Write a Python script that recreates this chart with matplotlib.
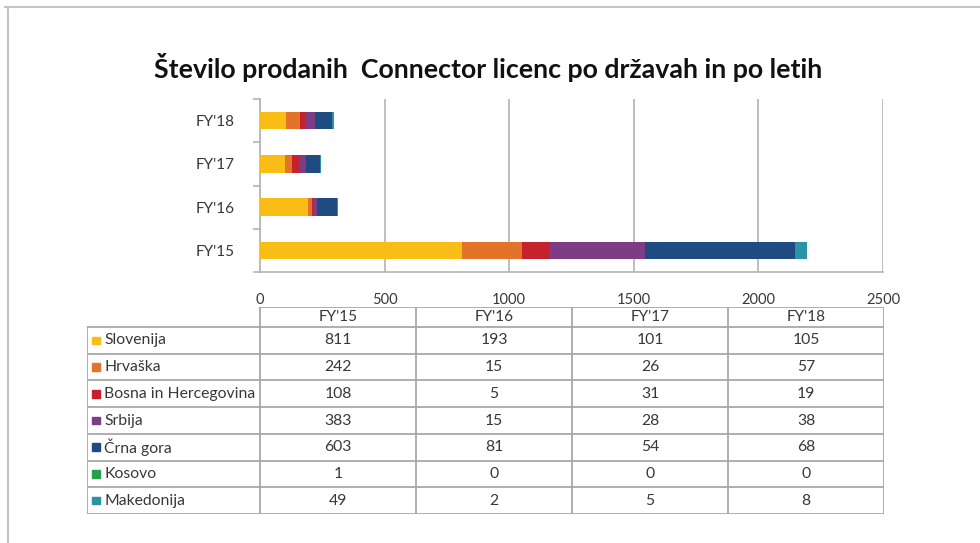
import numpy as np
from matplotlib import pyplot as plt
from matplotlib.lines import Line2D
from matplotlib.patches import Rectangle

plt.rcParams['font.family'] = ['Lato', 'DejaVu Sans']

years = ["FY'15", "FY'16", "FY'17", "FY'18"]
countries = ["Slovenija", "Hrvaška", "Bosna in Hercegovina", "Srbija",
             "Črna gora", "Kosovo", "Makedonija"]
slovenija = [811, 193, 101, 105]
hrvaska = [242, 15, 26, 57]
bosna = [108, 5, 31, 19]
srbija = [383, 15, 28, 38]
crna_gora = [603, 81, 54, 68]
kosovo = [1, 0, 0, 0]
makedonija = [49, 2, 5, 8]
colors = ["#F9BD15", "#E4732A", "#C6222E", "#7D3C84", "#1F4B82", "#23A04C", "#2A94A6"]
title = "Število prodanih  Connector licenc po državah in po letih"

series = [slovenija, hrvaska, bosna, srbija, crna_gora, kosovo, makedonija]
W, H = 980, 543
txt = "#383838"
grid = "#b4b4b4"

fig = plt.figure(figsize=(W / 100, H / 100), dpi=100)

# outer frame (top and left only)
fig.add_artist(Line2D([5 / W, 1], [1 - 7 / H, 1 - 7 / H], color="#c4c4c4", lw=1.5))
fig.add_artist(Line2D([8 / W, 8 / W], [0, 1 - 7 / H], color="#c4c4c4", lw=1.5))

fig.text(488 / W, 1 - 67 / H, title, ha="center", va="center",
         fontsize=19.3, fontweight="bold", color="#111111")

# chart
ax = fig.add_axes([260 / W, 1 - 272 / H, (883 - 260) / W, (272 - 99) / H])
y = np.arange(len(years))
left = np.zeros(len(years))
for vals, c in zip(series, colors):
    ax.barh(y, vals, left=left, height=0.4, color=c, zorder=3)
    left += np.array(vals)
ax.set_xlim(0, 2500)
ax.set_ylim(-0.5, len(years) - 0.5)
ax.set_xticks(np.arange(0, 2501, 500))
ax.set_yticks(y)
ax.set_yticklabels(years)
ax.set_yticks(np.arange(-0.5, len(years), 1), minor=True)
ax.grid(axis="x", color=grid, lw=1.2, zorder=0)
for s in ["top", "right"]:
    ax.spines[s].set_visible(False)
for s in ["left", "bottom"]:
    ax.spines[s].set_color(grid)
    ax.spines[s].set_linewidth(1.2)
ax.tick_params(axis="x", length=0, pad=15, labelsize=10.5, labelcolor=txt)
ax.tick_params(axis="y", which="major", length=0, pad=18, labelsize=11, labelcolor=txt)
ax.tick_params(axis="y", which="minor", length=5, color=grid, width=1.2)

# data table
tab = fig.add_axes([87 / W, 1 - 514 / H, (884 - 87) / W, (514 - 307) / H])
lab_w = (260 - 87) / ((884 - 260) / 4)
hdr = 0.75
nrow = len(countries)
tab.set_xlim(-lab_w, len(years))
tab.set_ylim(nrow + hdr, 0)
tab.axis("off")
lc = "#a8a8a8"
for i in range(len(years) + 1):
    tab.plot([i, i], [0, nrow + hdr], color=lc, lw=1.3)
tab.plot([-lab_w, -lab_w], [hdr, nrow + hdr], color=lc, lw=1.3)
tab.plot([0, len(years)], [0, 0], color=lc, lw=1.3)
for r in range(nrow + 1):
    tab.plot([-lab_w, len(years)], [hdr + r, hdr + r], color=lc, lw=1.3)
for j, yr in enumerate(years):
    tab.text(j + 0.5, hdr / 2, yr, ha="center", va="center", fontsize=11, color=txt)
for r, (name, vals, c) in enumerate(zip(countries, series, colors)):
    yc = hdr + r + 0.5
    tab.add_patch(Rectangle((-lab_w + 0.035, yc - 0.14), 0.05, 0.28, color=c))
    tab.text(-lab_w + 0.11, yc, name, ha="left", va="center", fontsize=11.3, color=txt)
    for j, v in enumerate(vals):
        tab.text(j + 0.5, yc, str(v), ha="center", va="center", fontsize=11.3, color=txt)

fig.savefig("out.png", dpi=100, facecolor="white")
